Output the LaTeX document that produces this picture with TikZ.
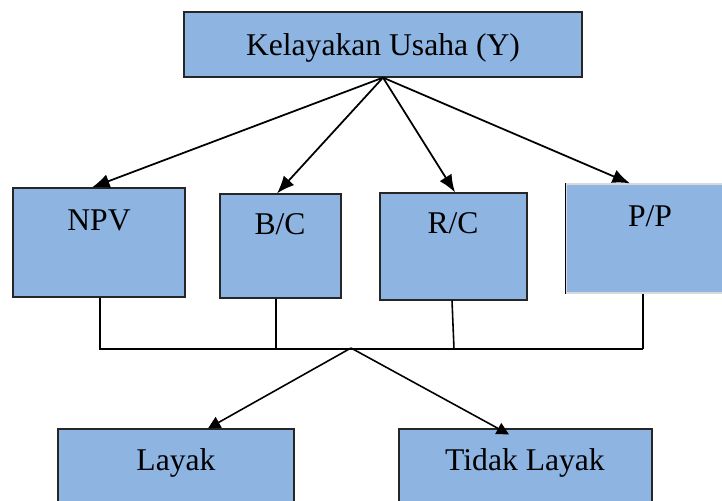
\documentclass[tikz,border=0pt]{standalone}
\usepackage{fontspec}
\setmainfont{Liberation Serif}
\usetikzlibrary{arrows.meta,positioning}
\definecolor{boxblue}{HTML}{8EB4E2}
\tikzset{
	box/.style={draw=black!85, fill=boxblue, line width=0.7pt, inner sep=0pt},
	lbl/.style={anchor=base, font=\fontsize{18}{21}\selectfont},
	arr/.style={line width=1pt, -{Latex[length=10pt,width=8pt]}},
	arrs/.style={line width=0.9pt, -{Triangle[length=7pt,width=7pt]}},
	ln/.style={line width=0.9pt}
}
\begin{document}
\begin{tikzpicture}[x=0.02cm, y=-0.02cm]
		\clip (0,0) rectangle (722,500);
		\fill[white] (0,0) rectangle (722,500);
		\node[box, minimum width=7.96cm, minimum height=1.3cm] (top) at (383,44.5) {};
		\node[lbl] (toplbl) at (383,55) {Kelayakan Usaha (Y)};
		\node[box, minimum width=3.44cm, minimum height=2.18cm] (npv) at (99,242.5) {};
		\node[lbl] (npvlbl) at (99,230) {NPV};
		\node[box, minimum width=2.42cm, minimum height=2.08cm] (bc) at (280.5,246) {};
		\node[lbl] (bclbl) at (280,234) {B/C};
		\node[box, minimum width=2.94cm, minimum height=2.14cm] (rc) at (453.5,246.5) {};
		\node[lbl] (rclbl) at (453,233) {R/C};
		\node[box, draw=black!15, minimum width=3.36cm, minimum height=2.18cm] (pp) at (650,238.5) {};
		\draw[line width=0.7pt] (pp.north west) -- (pp.south west);
		\node[lbl] (pplbl) at (650,226) {P/P};
		\node[box, minimum width=4.72cm, minimum height=1.52cm] (layak) at (176,467) {};
		\node[lbl] (layaklbl) at (176,470) {Layak};
		\node[box, minimum width=5.06cm, minimum height=1.52cm] (tidak) at (525.5,467) {};
		\node[lbl] (tidaklbl) at (525,470) {Tidak Layak};
		\coordinate (busL) at (99,349);
		\coordinate (busR) at (643,349);
		\coordinate (hub) at (351,348);
		\draw [arr] (top.south) -- ([xshift=-0.14cm]npv.north);
		\draw [arr] (top.south) -- ([xshift=-0.07cm]bc.north);
		\draw [arr] (top.south) -- ([xshift=0.03cm]rc.north);
		\draw [arr] (top.south) -- (pp.north -| 630,0);
		\draw [ln] ([xshift=0.02cm]npv.south) -- ([xshift=0.02cm]npv.south |- busL);
		\draw [ln] ([xshift=-0.09cm]bc.south) -- ([xshift=-0.09cm]bc.south |- busL);
		\draw [ln] ([xshift=-0.03cm]rc.south) -- ([xshift=0.01cm]rc.south |- busL);
		\draw [ln] (pp.south -| busR) -- (busR);
		\draw [ln] (busL) -- (busR);
		\draw [arrs] (hub) -- (layak.north -| 208,0);
		\draw [arrs] (hub) -- ([yshift=-0.12cm]tidak.north -| 509,0);
	\end{tikzpicture}
\end{document}
